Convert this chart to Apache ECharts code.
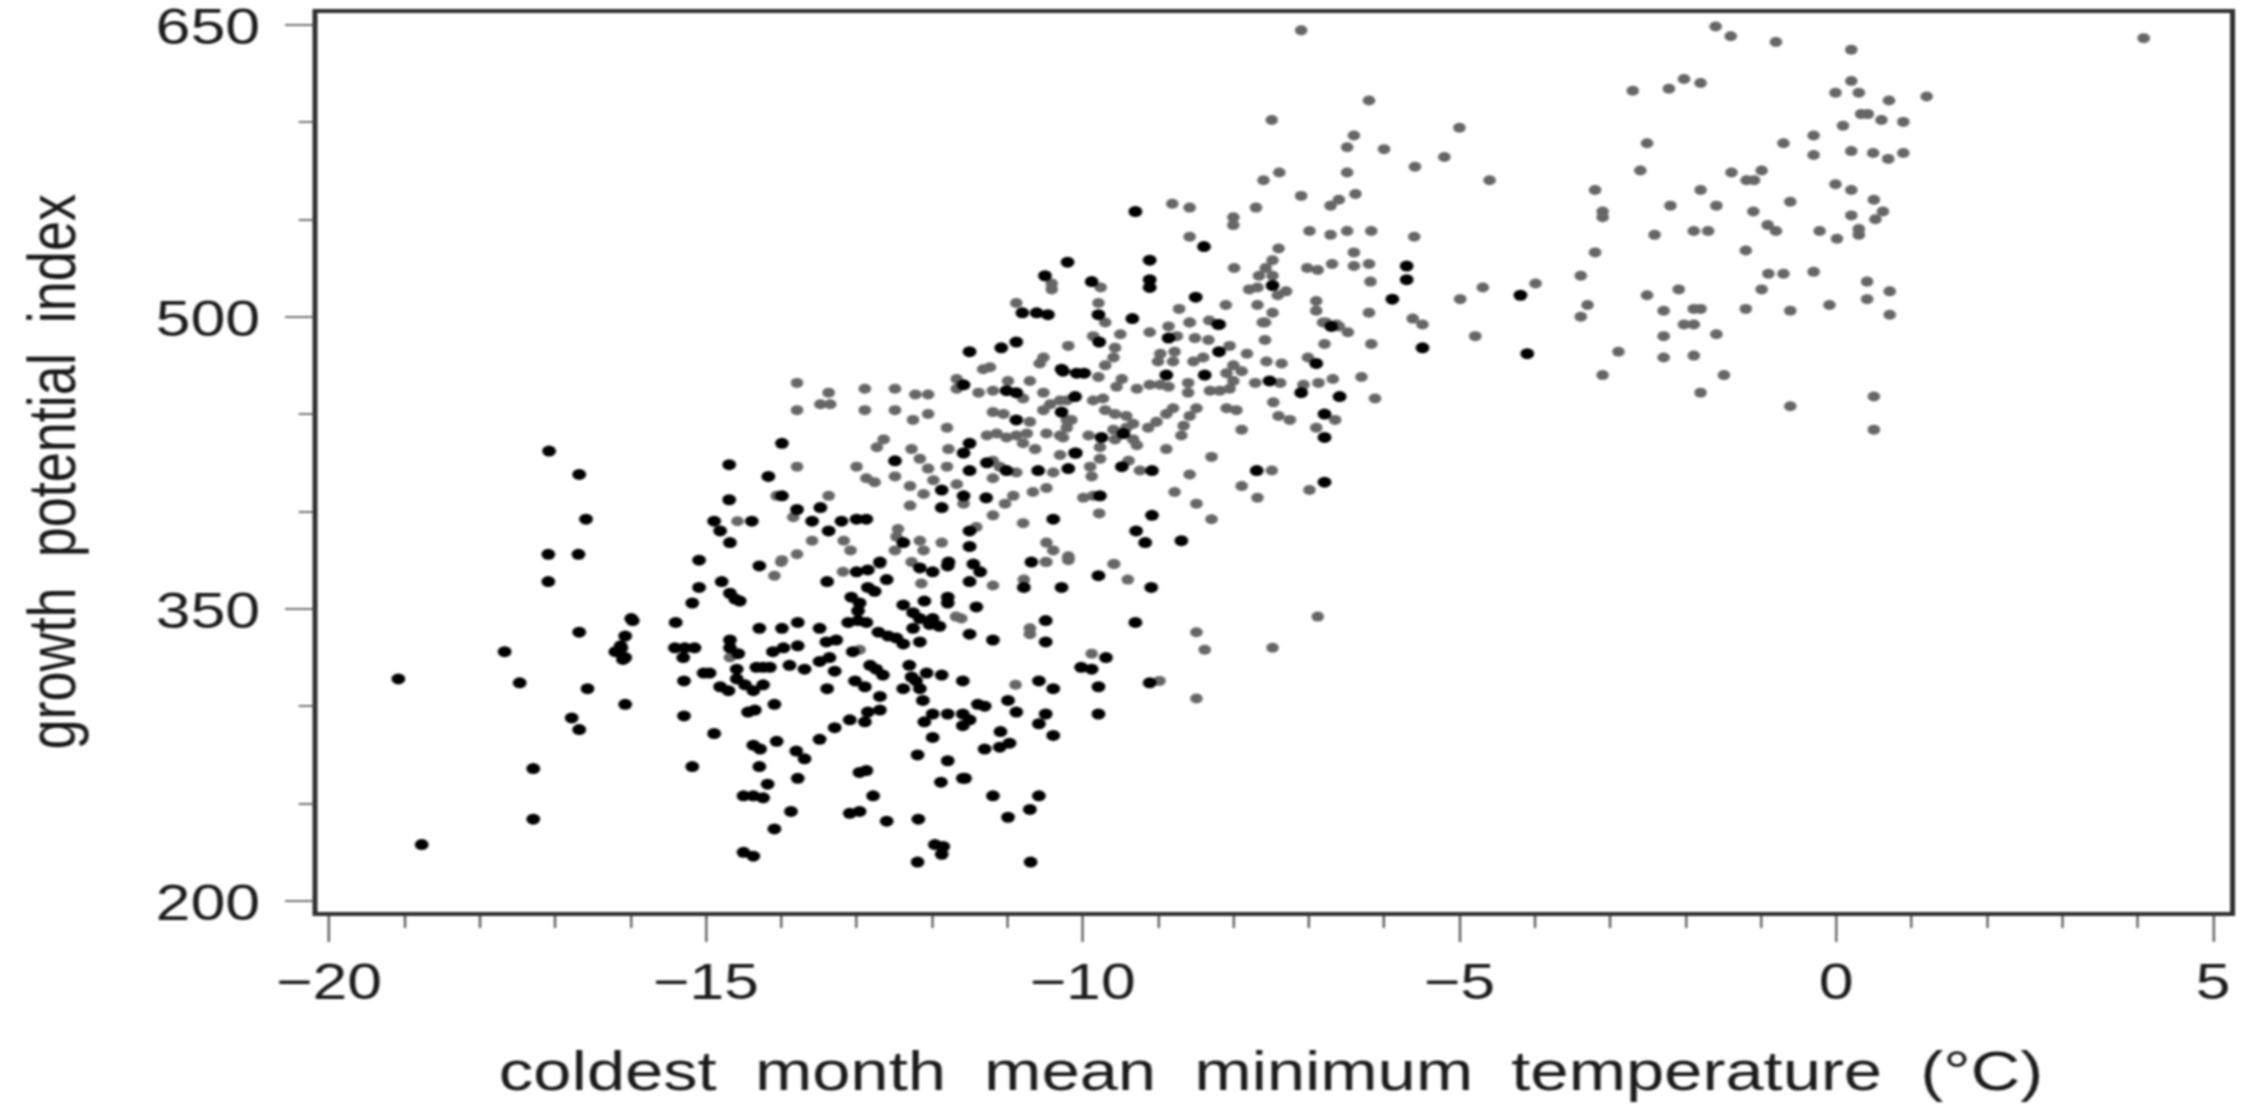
<!DOCTYPE html>
<html>
<head>
<meta charset="utf-8">
<style>
html,body{margin:0;padding:0;background:#fff;overflow:hidden;width:2262px;height:1105px}
#chart{width:1810px;height:1105px;transform:scaleX(1.25);transform-origin:0 0;filter:blur(0.9px)}
</style>
<script src="https://cdn.jsdelivr.net/npm/echarts@6/dist/echarts.min.js"></script>
</head>
<body>
<div id="chart"></div>
<script>
const xTitle = "coldest  month  mean  minimum  temperature  (°C)";
const yTitle = "growth  potential  index";
const xTickLabels = {"-20":"\u221220","-15":"\u221215","-10":"\u221210","-5":"\u22125","0":"0","5":"5"};
const yTickLabels = {"200":"200","350":"350","500":"500","650":"650"};

const blackPoints = [
[-15.09,375],[-14.29,372],[-13.39,364],[-13.00,369],[-12.85,370],[-12.60,365],[-11.79,372],[-11.99,369],[-12.16,371],[-11.50,364],[-11.45,373],
[-15.09,361],[-14.79,364],[-14.68,358],[-14.61,355],[-14.55,354],[-15.18,353],[-12.85,361],[-12.76,359],[-13.07,356],[-12.96,353],[-12.98,349],[-12.98,344],[-13.11,343],[-12.87,343],
[-12.10,354],[-11.79,356],[-11.79,353],[-12.38,352],[-12.25,348],[-12.16,345],[-11.41,351],[-15.99,345],[-15.40,343],[-14.29,340],[-13.99,340],[-13.78,343],[-13.49,340],
[-12.71,338],[-12.58,336],[-12.38,332],[-12.47,335],[-12.16,333],[-12.25,340],[-12.03,342],[-11.90,341],[-11.99,345],[-11.50,337],[-16.07,336],
[-15.41,330],[-15.28,330],[-15.15,330],[-15.30,325],[-16.07,325],[-16.12,330],[-14.68,334],[-14.68,330],[-14.57,327],[-14.11,328],[-13.97,330],[-13.78,331],[-13.40,333],[-13.27,334],
[-13.49,323],[-13.36,325],[-13.05,328],[-14.24,320],[-14.33,320],[-14.15,320],[-13.89,321],[-13.69,319],[-13.29,318],[-12.82,321],[-12.74,319],[-12.65,316],[-12.30,321],[-12.27,315],
[-12.07,317],[-11.87,316],[-11.59,313],[-15.03,317],[-14.95,317],[-15.29,313],[-14.59,319],[-14.59,314],[-14.81,310],[-14.70,308],[-14.48,311],[-14.37,308],[-14.24,311],[-13.39,309],
[-13.02,313],[-12.89,310],[-12.38,309],[-12.16,309],[-12.21,313],[-12.12,303],[-16.07,301],[-14.09,301],[-14.44,297],[-14.35,298],[-15.29,295],[-12.69,305],[-12.69,298],[-12.85,297],
[-12.89,292],[-13.09,293],[-13.29,289],[-12.10,292],[-11.99,296],[-11.79,296],[-11.59,296],[-11.50,293],[-11.59,290],[-11.39,301],[-14.89,286],[-13.49,283],[-11.99,284],[-14.37,280],
[-14.28,278],[-14.06,282],[-13.80,277],[-13.69,273],[-12.19,275],[-11.79,272],[-15.18,269],[-14.29,269],[-12.96,266],[-12.87,267],[-13.78,263],[-11.88,261],[-11.59,263],[-14.18,260],
[-14.50,254],[-14.37,254],[-14.24,253],[-12.78,254],[-13.87,246],[-13.09,245],[-12.96,246],[-12.60,241],[-12.18,242],[-14.09,237],[-14.50,225],[-14.37,223],[-11.96,229],[-11.85,228],
[-11.87,224],[-12.19,220],
[-11.36,369],[-10.68,374],[-10.78,361],[-10.28,361],[-9.79,367],[-9.09,361],[-10.49,344],[-9.30,343],[-11.19,334],[-10.49,333],[-9.69,325],[-10.02,320],[-9.88,319],[-10.58,313],
[-10.39,309],[-9.79,310],[-9.11,312],[-10.99,303],[-11.30,300],[-10.88,297],[-10.49,296],[-10.58,291],[-9.79,296],[-11.09,287],[-10.39,285],[-10.97,281],[-11.10,279],[-11.30,278],
[-11.56,263],[-11.19,254],[-10.58,254],[-10.70,247],[-10.99,243],[-10.69,220],
[-11.50,482],[-11.08,484],[-10.88,487],[-10.28,473],[-10.08,471],[-11.58,465],[-11.01,462],[-10.88,461],[-10.10,459],[-10.28,451],[-10.88,447],[-13.99,435],[-11.50,435],[-11.58,430],
[-12.49,426],[-11.27,425],[-11.50,421],[-11.01,421],[-10.59,421],[-10.19,422],[-10.10,430],[-14.17,418],[-11.87,411],[-11.58,408],[-11.87,402],[-11.28,407],[-10.39,396],[-11.50,390],
[-13.99,408],[-13.79,401],[-13.48,402],[-13.59,395],[-13.20,395],[-13.00,396],[-12.87,396],[-13.37,390],[-12.38,384],[-11.50,382],[-12.69,374],[-11.78,374],
[-9.78,487],[-10.26,472],[-9.98,471],[-8.19,496],[-8.19,482],[-8.86,489],[-8.89,470],[-8.38,470],[-7.52,467],[-7.10,461],[-6.59,459],[-6.90,476],[-6.70,495],[-9.46,440],[-9.75,438],
[-6.79,450],[-6.79,438],[-10.09,430],[-9.48,423],[-9.08,421],[-7.69,421],[-6.79,415],[-9.77,408],[-9.08,398],[-9.29,390],[-9.17,384],[-8.69,385],
[-9.30,554],[-8.39,536],[-9.11,529],[-9.11,519],[-9.11,515],[-8.50,510],[-7.48,516],[-5.70,526],[-5.70,519],[-5.89,509],[-9.34,499],[-8.20,496],[-5.49,484],
[-4.19,511],[-4.10,481],
[-19.08,314],[-17.67,328],[-17.47,312],[-16.68,338],[-16.57,309],[-15.97,344],[-16.13,331],[-16.20,328],[-16.10,324],[-16.78,294],[-16.68,288],[-17.29,268],[-17.29,242],[-18.77,229],
[-17.08,431],[-16.68,419],[-16.59,396],[-17.09,378],[-16.69,378],[-17.09,364],
[-14.69,406],[-14.69,424],[-14.89,395],[-14.81,390],[-14.68,384],[-14.39,395],
[-10.20,528],[-10.50,521],[-9.88,518],[-9.79,501],[-10.80,502],[-10.61,502],[-10.46,501]
];

const grayPoints = [
[-14.09,367],[-14.00,374],[-13.18,369],[-12.69,373],[-12.14,363],[-11.68,346],[-12.96,329],[-14.68,325],
[-9.59,373],[-9.40,365],[-11.19,362],[-10.78,365],[-10.49,374],[-10.19,375],[-10.70,340],[-10.70,337],[-11.61,345],[-9.88,327],[-10.89,311],[-8.98,313],[-8.49,338],[-8.38,329],[-7.48,330],[-8.49,304],[-6.88,346],
[-13.79,466],[-13.37,461],[-13.48,455],[-13.35,455],[-13.79,452],[-12.89,463],[-12.89,452],[-12.49,463],[-12.49,452],[-12.22,460],[-12.05,460],[-12.25,447],[-12.05,450],[-11.80,443],[-11.67,468],[-11.67,463],
[-11.38,461],[-11.19,462],[-10.99,467],[-10.70,467],[-11.23,474],[-11.32,473],[-10.52,479],[-10.57,476],[-10.19,485],[-10.52,461],[-10.43,455],[-10.30,457],[-10.52,452],[-10.79,458],[-10.21,447],[-11.19,451],
[-11.05,450],[-10.70,446],[-11.27,439],[-11.14,440],[-11.01,438],[-10.88,439],[-10.74,440],[-10.79,435],[-10.63,432],[-10.48,440],[-10.30,439],[-10.21,443],[-10.30,429],[-12.64,437],[-12.73,433],[-12.27,432],
[-12.16,427],[-12.05,422],[-11.78,432],[-11.80,423],[-13.00,423],[-13.79,423],[-12.49,418],[-12.87,417],[-12.76,415],[-12.29,413],[-12.11,409],[-11.98,416],[-11.67,414],[-11.58,404],[-12.29,403],[-11.19,426],
[-11.10,423],[-11.19,417],[-10.88,420],[-10.39,420],[-10.66,410],[-10.48,412],[-10.92,408],[-11.03,404],[-11.19,398],[-10.79,394],[-11.41,392],[-14.06,408],[-13.37,408],[-13.84,397],[-13.59,385],[-13.17,385],
[-13.08,380],[-13.79,378],[-13.99,375],[-12.45,391],[-12.47,387],[-12.16,385],[-11.87,384],[-12.11,380],[-12.49,380],[-12.27,374],[-10.48,384],[-10.39,380],[-10.48,374],[-10.19,377],
[-9.70,497],[-9.86,490],[-9.50,491],[-9.57,484],[-9.59,479],[-9.70,475],[-9.79,469],[-9.48,468],[-9.55,464],[-9.28,463],[-9.11,492],[-8.86,495],[-8.58,497],[-8.75,490],[-8.51,489],[-8.33,488],[-8.97,481],[-8.78,482],
[-9.00,477],[-8.80,477],[-8.53,477],[-8.40,479],[-8.05,485],[-7.82,481],[-8.00,475],[-8.09,471],[-7.89,472],[-8.00,467],[-7.56,477],[-7.36,476],[-7.71,466],[-7.38,466],[-9.11,465],[-8.97,465],[-8.86,464],[-8.60,466],
[-8.60,461],[-8.31,462],[-8.18,462],[-8.05,463],[-7.58,488],[-7.58,497],[-6.79,486],[-6.17,486],[-6.81,497],[-6.63,496],[-6.48,492],[-7.01,479],[-7.07,465],[-6.87,466],[-6.68,468],[-6.30,469],[-6.12,458],[-7.47,456],
[-7.40,449],[-7.25,447],[-8.09,453],[-7.96,452],[-7.89,442],[-6.90,443],[-6.65,447],[-8.80,453],[-8.89,450],[-9.02,446],[-8.49,453],[-8.58,449],[-8.66,444],[-8.69,439],[-9.13,443],[-8.89,432],[-8.29,428],[-9.70,452],
[-9.57,450],[-9.42,449],[-9.33,445],[-9.59,442],[-9.42,443],[-9.57,437],[-9.33,437],[-9.92,439],[-9.77,433],[-9.28,434],[-9.73,458],[-9.86,457],[-10.21,457],[-10.26,438],[-10.15,447],[-9.77,427],[-9.90,423],[-9.88,418],
[-9.39,426],[-9.24,421],[-8.58,419],[-7.89,413],[-7.49,421],[-8.78,410],[-8.49,404],[-7.68,407],[-6.99,411],[-8.29,396],[-9.99,407],[-9.86,408],[-9.78,399],[-10.19,376],[-9.58,373],
[-7.60,570],[-7.39,574],[-8.81,558],[-8.58,556],[-7.70,556],[-7.10,562],[-6.49,574],[-6.38,563],[-6.60,560],[-6.71,557],[-8.00,551],[-8.00,547],[-6.99,544],[-6.71,542],[-6.49,544],[-6.17,544],[-5.60,541],[-8.58,541],
[-7.40,535],[-7.48,529],[-7.57,525],[-7.99,525],[-7.02,525],[-6.88,524],[-6.69,527],[-6.40,533],[-6.40,526],[-6.20,527],[-6.18,518],[-7.66,521],[-7.48,521],[-7.79,514],[-7.68,515],[-7.30,513],[-7.41,511],[-7.68,506],
[-7.48,502],[-7.61,497],[-8.10,506],[-8.72,504],[-6.90,508],[-6.90,503],[-6.20,502],[-8.58,497],[-8.32,498],[-6.77,497],[-6.60,495],[-5.62,499],[-5.49,496],
[-7.10,647],[-6.20,611],[-7.49,601],[-6.40,593],[-6.49,587],[-6.00,586],[-5.00,597],[-5.20,582],[-5.59,577],[-4.60,570],[-4.69,515],[-4.99,509],[-4.79,490],
[-1.60,649],[-1.40,644],[-0.80,641],[0.20,637],[4.08,643],[-2.70,616],[-2.22,617],[-2.02,622],[-1.80,620],[0.20,621],[-0.01,615],[0.30,615],[0.70,611],[1.20,613],[0.33,604],[0.42,604],[0.60,601],[0.89,600],[0.09,598],
[-0.30,593],[-0.70,589],[-2.51,589],[-0.30,583],[0.20,585],[0.49,584],[0.69,581],[0.89,584],[-2.60,575],[-1.39,574],[-0.99,575],[-1.19,570],[-1.09,570],[-3.20,565],[-1.80,565],[-2.20,557],[-1.59,557],[-1.10,554],[-0.61,559],
[-0.01,568],[0.20,565],[0.50,560],[0.62,554],[0.20,552],[0.52,550],[-3.10,554],[-3.10,551],[-2.41,542],[-1.89,544],[-1.70,544],[-0.91,547],[-0.80,544],[-0.22,544],[0.01,540],[0.30,545],[0.30,542],[-3.20,533],[-1.20,534],
[-3.39,521],[-3.99,517],[-0.90,522],[-0.70,522],[-0.30,523],[0.41,518],[0.71,513],[-0.99,514],[-2.09,514],[-2.51,511],[-3.30,506],[-3.39,500],[0.41,509],[-0.09,506],[-2.29,503],[-1.89,504],[-1.80,504],[-1.20,504],[-0.61,503],
[0.71,501],[-2.02,496],[-1.89,496],[-1.59,491],[-2.29,490],[-2.89,482],[-2.29,479],[-1.89,480],[-3.10,470],[-1.49,470],[-1.80,461],[0.50,459],[-0.61,454],[0.50,442],
[-14.58,395],[-10.41,514],[-10.41,517],[-9.76,515],[-9.79,507],[-10.88,507]
];

const chart = echarts.init(document.getElementById('chart'), null, {renderer:'canvas'});
const font = '"Liberation Sans", Arial, sans-serif';
const ink = '#1a1a1a';
chart.setOption({
  animation:false,
  backgroundColor:'#fff',
  grid:[
    {left:263.2, top:24.5, width:1507.2, height:876.5, show:false, containLabel:false, outerBoundsMode:'none'},
    {left:252, top:11, width:1534, height:903, show:true, borderColor:'#2e2e2e', borderWidth:4, backgroundColor:'transparent', containLabel:false, outerBoundsMode:'none'}
  ],
  xAxis:[
    {type:'value', gridIndex:0, min:-20, max:5, interval:5, offset:13,
     name:xTitle, nameLocation:'middle', nameGap:133, nameTextStyle:{fontFamily:font,fontSize:55,color:ink},
     axisLine:{show:false,onZero:false}, splitLine:{show:false},
     axisTick:{show:true,length:28,lineStyle:{color:'#333',width:1.5}},
     minorTick:{show:true,splitNumber:5,length:14,lineStyle:{color:'#333',width:1.5}},
     axisLabel:{fontFamily:font,fontSize:50,color:ink,margin:46,hideOverlap:false,formatter:v=>xTickLabels[String(v)]||''}},
    {type:'value', gridIndex:1, show:false, min:0, max:1}
  ],
  yAxis:[
    {type:'value', gridIndex:0, min:200, max:650, interval:150, offset:11.2,
     name:yTitle, nameLocation:'middle', nameGap:180, nameRotate:90, nameTextStyle:{fontFamily:font,fontSize:54,color:ink,padding:[0,18,0,0]},
     axisLine:{show:false,onZero:false}, splitLine:{show:false},
     axisTick:{show:true,length:24,lineStyle:{color:'#444',width:1.5}},
     minorTick:{show:true,splitNumber:3,length:13,lineStyle:{color:'#444',width:1.5}},
     axisLabel:{fontFamily:font,fontSize:50,color:ink,margin:44,verticalAlign:'top',lineHeight:11,verticalAlignMaxLabel:'top',verticalAlignMinLabel:'top',formatter:v=>yTickLabels[String(v)]||''}},
    {type:'value', gridIndex:1, show:false, min:0, max:1}
  ],
  series:[
    {type:'scatter', xAxisIndex:0, yAxisIndex:0, data:grayPoints, symbol:'circle', symbolSize:10, itemStyle:{color:'#666',opacity:1}, silent:true, large:false, z:2},
    {type:'scatter', xAxisIndex:0, yAxisIndex:0, data:blackPoints, symbol:'circle', symbolSize:11, itemStyle:{color:'#000',opacity:1}, silent:true, large:false, z:3}
  ]
});
</script>
</body>
</html>
